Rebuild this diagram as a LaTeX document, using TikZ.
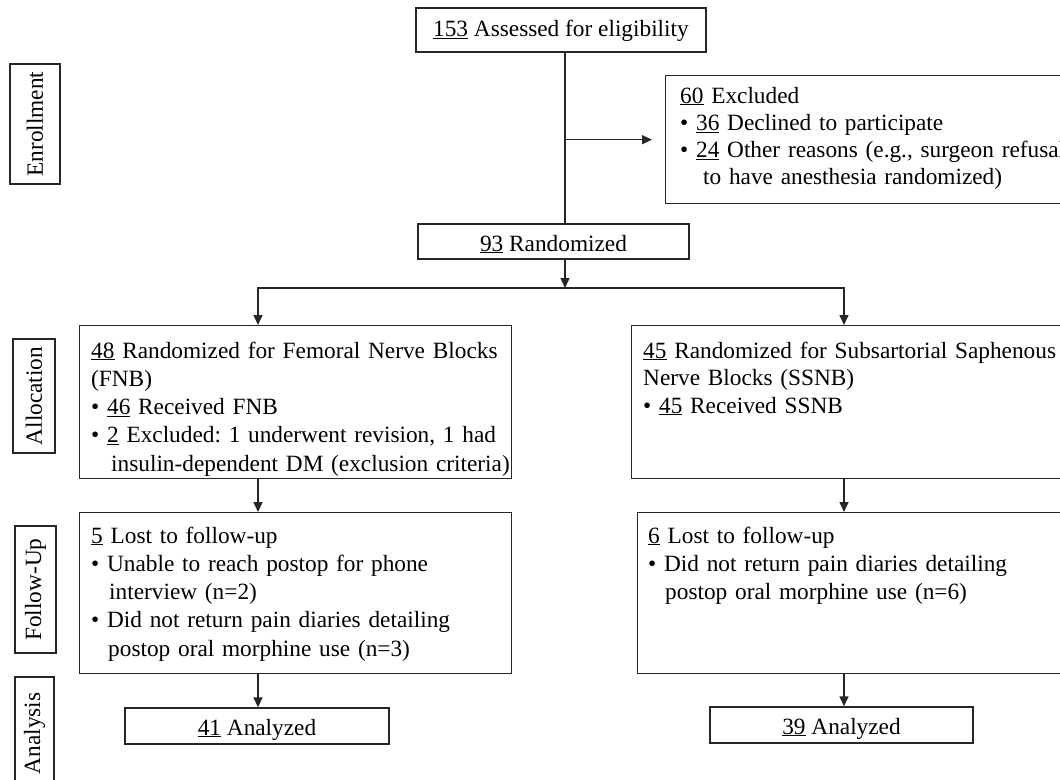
\documentclass[tikz,border=0pt]{standalone}
\usepackage{fontspec}
\setmainfont{Liberation Serif}
\usetikzlibrary{arrows.meta}
\frenchspacing
\begin{document}
\begin{tikzpicture}[x=1pt,y=-1pt,
  every node/.style={font=\fontsize{23.3}{28.3}\selectfont, text=black},
  box/.style={draw=black!85, line width=1.4pt, inner sep=0pt, anchor=north west},
  cbox/.style={draw=black!85, line width=1.4pt, inner sep=0pt, align=center},
  txt/.style={inner sep=0pt, anchor=base west, align=left, text width=700pt},
  side/.style={draw=black!85, line width=1.4pt, inner sep=0pt, rotate=90},
  con/.style={draw=black!85, line width=1.4pt},
  arr/.style={draw=black!85, line width=1.4pt, -{Triangle[length=10pt,width=9pt]}}
]
\useasboundingbox (0,0) rectangle (1060,779);
\clip (0,0) rectangle (1060,779);

% side labels
\node[side, minimum width=120pt, minimum height=50pt] (lenr) at (35,124) {Enrollment};
\node[side, minimum width=114pt, minimum height=42pt] (lall) at (34,396) {Allocation};
\node[side, minimum width=127pt, minimum height=41pt] (lfu) at (35.5,589.5) {Follow-Up};
\node[side, minimum width=113pt, minimum height=39pt] (lan) at (34.5,733.5) {Analysis};

% enrollment
\node[cbox, minimum width=290pt, minimum height=44pt, text height=17.4pt, text depth=4pt] (assess) at (561,30) {\underline{153} Assessed for eligibility};
\node[box, minimum width=420pt, minimum height=128pt] (excl) at (665,75) {};
\node[txt, font=\fontsize{23.3}{27.3}\selectfont] (exclt) at ([shift={(15,28)}]excl.north west)
  {\underline{60} Excluded\\
   • \underline{36} Declined to participate\\
   • \underline{24} Other reasons (e.g., surgeon refusal\\
   \hspace*{23pt}to have anesthesia randomized)};
\node[cbox, minimum width=271pt, minimum height=35pt, text height=19pt, text depth=0pt] (rand) at (553.5,241.5) {\underline{93} Randomized};

% allocation
\node[box, minimum width=432pt, minimum height=153pt] (fnb) at (79,325) {};
\node[txt, font=\fontsize{23.3}{28.3}\selectfont] (fnbt) at ([shift={(12,33)}]fnb.north west)
  {\underline{48} Randomized for Femoral Nerve Blocks\\
   (FNB)\\
   • \underline{46} Received FNB\\
   • \underline{2} Excluded: 1 underwent revision, 1 had\\
   \hspace*{20pt}insulin-dependent DM (exclusion criteria)};
\node[box, minimum width=440pt, minimum height=153pt] (ssnb) at (631,325) {};
\node[txt, font=\fontsize{23.3}{27.5}\selectfont] (ssnbt) at ([shift={(12,33)}]ssnb.north west)
  {\underline{45} Randomized for Subsartorial Saphenous\\
   Nerve Blocks (SSNB)\\
   • \underline{45} Received SSNB};

% follow-up
\node[box, minimum width=432pt, minimum height=161pt] (fu1) at (79,512) {};
\node[txt, font=\fontsize{23.3}{28.3}\selectfont] (fu1t) at ([shift={(12,31)}]fu1.north west)
  {\underline{5} Lost to follow-up\\
   • Unable to reach postop for phone\\
   \hspace*{18pt}interview (n=2)\\
   • Did not return pain diaries detailing\\
   \hspace*{17pt}postop oral morphine use (n=3)};
\node[box, minimum width=440pt, minimum height=161pt] (fu2) at (637,512) {};
\node[txt, font=\fontsize{23.3}{28.3}\selectfont] (fu2t) at ([shift={(11,31)}]fu2.north west)
  {\underline{6} Lost to follow-up\\
   • Did not return pain diaries detailing\\
   \hspace*{17pt}postop oral morphine use (n=6)};

% analysis
\node[cbox, minimum width=264pt, minimum height=36pt, text height=18pt, text depth=0pt] (an1) at (257,726) {\underline{41} Analyzed};
\node[cbox, minimum width=263pt, minimum height=36pt, text height=18pt, text depth=0pt] (an2) at (841.5,725) {\underline{39} Analyzed};

% connectors
\coordinate (spine) at (565,0);
\coordinate (colL) at (258,0);
\coordinate (colR) at (844,0);
\coordinate (split) at (565,288);
\draw[con] (assess.south -| spine) -- (rand.north -| spine);
\draw[arr, shorten >=13pt] (excl.west -| spine) -- (excl.west);
\draw[arr] (rand.south -| spine) -- (split);
\draw[arr] (split) -| (fnb.north -| colL);
\draw[arr] (split) -| (ssnb.north -| colR);
\draw[arr] (fnb.south -| colL) -- (fu1.north -| colL);
\draw[arr] (ssnb.south -| colR) -- (fu2.north -| colR);
\draw[arr] (fu1.south -| colL) -- (an1.north -| colL);
\draw[arr] (fu2.south -| colR) -- (an2.north -| colR);
\end{tikzpicture}
\end{document}
